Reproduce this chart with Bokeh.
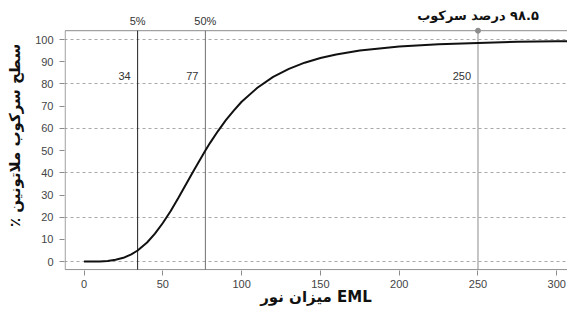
from bokeh.plotting import figure
from bokeh.models import Label, FixedTicker, Range1d
from bokeh.embed import file_html
from bokeh.resources import INLINE

# ---- data ----
light_eml = [0, 5, 10, 15, 20, 25, 30, 34, 40, 45, 50, 55, 60, 65, 70, 77,
             80, 85, 90, 95, 100, 110, 120, 130, 140, 150, 160, 175, 200,
             225, 250, 275, 300, 310]
suppression = [0.0, 0.02, 0.06, 0.3, 0.8, 1.7, 3.3, 5.0, 8.6, 12.6, 17.4, 22.8,
               28.9, 35.2, 41.5, 50.0, 53.5, 58.8, 63.7, 68.0, 72.0, 78.3, 83.2,
               86.8, 89.6, 91.7, 93.3, 95.1, 96.9, 97.9, 98.5, 99.0, 99.26, 99.3]

marker_x = [34, 77, 250]
marker_labels = ["34", "77", "250"]
top_labels = ["5%", "50%"]
annot_x = 250
annot_text = "\u200f۹۸.۵ درصد سرکوب"
x_title = "میزان نور EML"
y_title = "سطح سرکوب ملاتونین ٪\u200f"
x_ticks = [0, 50, 100, 150, 200, 250, 300]
y_ticks = [0, 10, 20, 30, 40, 50, 60, 70, 80, 90, 100]
grid_y = [0, 20, 40, 60, 80, 100]

# plot box extent (data units)
box_left, box_right, box_bottom, box_top = -12, 310, -3.6, 104

NUM_FONT = "Liberation Sans"
FA_FONT = "DejaVu Sans"

p = figure(width=567, height=308, output_backend="svg", toolbar_location=None,
           x_range=Range1d(-12.4, 306.8), y_range=Range1d(-4.0, 117.6),
           min_border_left=64, min_border_right=0, min_border_top=0,
           min_border_bottom=38)
p.background_fill_color = "white"
p.border_fill_color = "white"
p.outline_line_color = None

# grid
p.xgrid.visible = False
p.ygrid.ticker = FixedTicker(ticks=grid_y)
p.ygrid.grid_line_color = "#a8a8a8"
p.ygrid.grid_line_dash = "3 3"
p.ygrid.grid_line_width = 1

# axes
for ax in (p.xaxis[0], p.yaxis[0]):
    ax.axis_line_color = None
    ax.major_tick_in = 0
    ax.major_tick_out = 5
    ax.major_tick_line_color = "#8c8c8c"
    ax.minor_tick_line_color = None
    ax.major_label_text_font = NUM_FONT
    ax.major_label_text_font_size = "11px"
    ax.major_label_text_color = "#444444"
    ax.major_label_text_line_height = 1.0
    ax.axis_label_text_font = FA_FONT
    ax.axis_label_text_font_style = "bold"
    ax.axis_label_text_color = "#111111"
    ax.axis_label_text_line_height = 1.0

p.xaxis.ticker = FixedTicker(ticks=x_ticks)
p.yaxis.ticker = FixedTicker(ticks=y_ticks)
p.xaxis.major_label_standoff = 4
p.yaxis.major_label_standoff = 6
p.xaxis.axis_label = x_title
p.xaxis.axis_label_text_font_size = "15px"
p.xaxis.axis_label_standoff = -3
p.yaxis.axis_label = y_title
p.yaxis.axis_label_text_font_size = "15px"
p.yaxis.axis_label_standoff = 8

# plot box (left, top, bottom edges)
p.segment(x0=[box_left, box_left, box_left], y0=[box_bottom, box_top, box_bottom],
          x1=[box_left, box_right, box_right], y1=[box_top, box_top, box_bottom],
          line_color="#8c8c8c", line_width=1)

# vertical marker lines
line_colors = ["#222222", "#707070", "#8c8c8c"]
p.segment(x0=marker_x, y0=[box_bottom] * 3, x1=marker_x, y1=[box_top] * 3,
          line_color=line_colors, line_width=1)

# curve
p.line(light_eml, suppression, line_color="#111111", line_width=2)

# point for 98.5
p.scatter([annot_x], [box_top], size=5, color="#8c8c8c")

# value labels
for xv, t in zip(marker_x, marker_labels):
    p.add_layout(Label(x=xv, y=83.8, text=t, x_offset=-7, text_align="right",
                       text_baseline="middle", text_font=NUM_FONT,
                       text_font_size="11px", text_color="#333333"))
for xv, t in zip(marker_x[:2], top_labels):
    p.add_layout(Label(x=xv, y=108.5, text=t, text_align="center",
                       text_baseline="middle", text_font=NUM_FONT,
                       text_font_size="11px", text_color="#333333"))

p.add_layout(Label(x=annot_x, y=110.8, text=annot_text,
                   text_align="center", text_baseline="middle",
                   text_font=FA_FONT, text_font_style="bold",
                   text_font_size="13px", text_color="#111111"))

open("out.html", "w").write(file_html(p, INLINE))
